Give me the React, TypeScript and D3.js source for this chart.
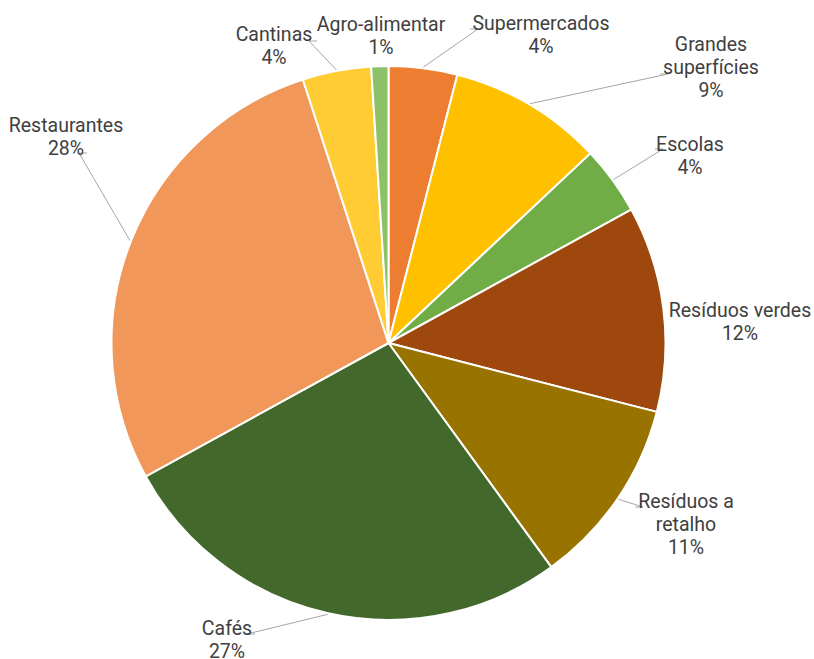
import React from "react";
import * as d3 from "d3";

const categories = [
  "Supermercados",
  "Grandes superfícies",
  "Escolas",
  "Resíduos verdes",
  "Resíduos a retalho",
  "Cafés",
  "Restaurantes",
  "Cantinas",
  "Agro-alimentar",
];
const values = [4, 9, 4, 12, 11, 27, 28, 4, 1];
const labelLines = [
  ["Supermercados", "4%"],
  ["Grandes", "superfícies", "9%"],
  ["Escolas", "4%"],
  ["Resíduos verdes", "12%"],
  ["Resíduos a", "retalho", "11%"],
  ["Cafés", "27%"],
  ["Restaurantes", "28%"],
  ["Cantinas", "4%"],
  ["Agro-alimentar", "1%"],
];

const colors = [
  "#ED7D31",
  "#FFC000",
  "#70AD47",
  "#9E480E",
  "#997300",
  "#43682B",
  "#F1975A",
  "#FFCD33",
  "#8CC168",
];

// layout: label centre x, first baseline y; leader end (null = none), dir of elbow
const labelLayout = [
  { x: 541, y: 30, end: [470, 29], dir: -1 },
  { x: 711, y: 51, end: [660, 74], dir: -1 },
  { x: 690, y: 151, end: [655, 149], dir: -1 },
  { x: 740, y: 317, end: null, dir: 0 },
  { x: 686, y: 508, end: [635, 507], dir: -1 },
  { x: 227, y: 635, end: [255, 634], dir: 1 },
  { x: 66, y: 132, end: [87, 153], dir: 1 },
  { x: 274, y: 41, end: [317, 41], dir: 1 },
  { x: 381, y: 31, end: null, dir: 0 },
];

const W = 814;
const H = 659;
const cx = 388.5;
const cy = 343;
const R = 277;

export default function App() {
  const pie = d3.pie<number>().sort(null).value((d) => d);
  const arcs = pie(values);
  const arc = d3.arc<d3.PieArcDatum<number>>().innerRadius(0).outerRadius(R);
  const lineH = 23;

  return (
    <svg
      width={W}
      height={H}
      style={{ position: "absolute", left: 0, top: 0, background: "#fff" }}
      fontFamily="Roboto, sans-serif"
    >
      <rect width={W} height={H} fill="#fff" />
      <g transform={`translate(${cx},${cy})`}>
        {arcs.map((a, i) => (
          <path
            key={categories[i]}
            d={arc(a) || ""}
            fill={colors[i]}
            stroke="#fff"
            strokeWidth={2}
            strokeLinejoin="round"
          />
        ))}
      </g>
      {arcs.map((a, i) => {
        const L = labelLayout[i];
        if (!L.end) return null;
        const mid = (a.startAngle + a.endAngle) / 2;
        const sx = cx + Math.sin(mid) * (R + 1);
        const sy = cy - Math.cos(mid) * (R + 1);
        const [ex, ey] = L.end as number[];
        const elx = ex - L.dir * 8;
        return (
          <polyline
            key={"l" + i}
            points={`${sx},${sy} ${elx},${ey} ${ex},${ey}`}
            fill="none"
            stroke="#A6A6A6"
            strokeWidth={1}
          />
        );
      })}
      {labelLines.map((lines, i) => {
        const L = labelLayout[i];
        return (
          <text
            key={"t" + i}
            textAnchor="middle"
            fontSize={19.5}
            fill="#404040"
          >
            {lines.map((s, j) => (
              <tspan key={j} x={L.x} y={L.y + j * lineH}>
                {s}
              </tspan>
            ))}
          </text>
        );
      })}
    </svg>
  );
}
